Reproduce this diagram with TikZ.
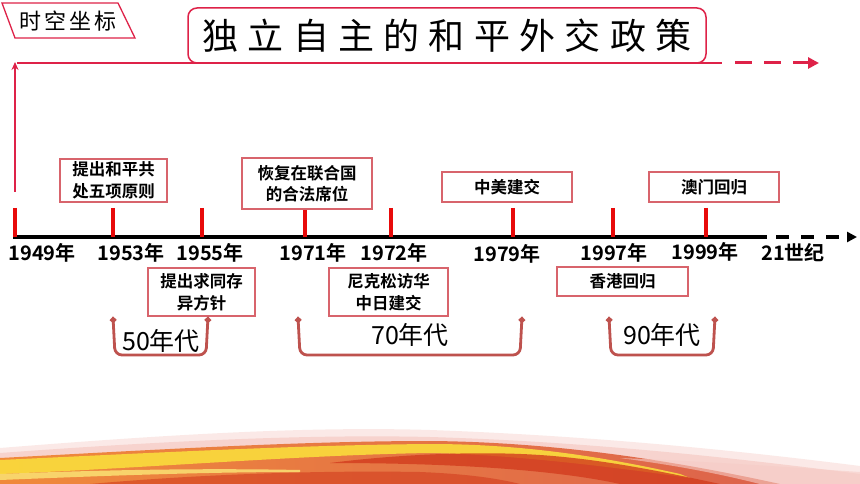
\documentclass[tikz,border=0pt]{standalone}
\usepackage{fontspec}
\setmainfont{Noto Sans CJK SC}[BoldFont={Noto Sans CJK SC Bold}]
\usetikzlibrary{arrows.meta,shapes.geometric}
\definecolor{crim}{RGB}{222,34,72}
\definecolor{tickred}{RGB}{232,10,10}
\definecolor{boxred}{RGB}{216,100,108}
\definecolor{brk}{RGB}{190,82,78}
\definecolor{florange}{RGB}{240,130,40}
\definecolor{flyellow}{RGB}{250,220,60}
\definecolor{flred}{RGB}{210,60,30}
\definecolor{flpink}{RGB}{240,170,160}
\begin{document}
\begin{tikzpicture}[x=1pt,y=-1pt,
 evbox/.style={draw=boxred, line width=1.3pt, fill=white, font=\bfseries\fontsize{16.5}{21.5}\selectfont, align=center, inner sep=0pt},
 yearlab/.style={font=\bfseries\fontsize{20}{21}\selectfont, inner sep=0pt},
 decade/.style={font=\fontsize{25}{26}\selectfont, inner sep=0pt},
 tickln/.style={draw=tickred, line width=3.5pt},
 bracestyle/.style={draw=brk, line width=2.8pt, rounded corners=7pt, {Circle[length=6pt,width=6pt]}-{Circle[length=6pt,width=6pt]}}
]
\useasboundingbox (0,0) rectangle (860,484);
\fill[white] (0,0) rectangle (860,484);

% bottom flame decoration
\fill[flpink, opacity=0.25] (0,448) .. controls (150,436) and (300,426) .. (430,430) .. controls (600,436) and (750,452) .. (860,466) -- (860,484) -- (0,484) -- cycle;
\fill[flpink, opacity=0.35] (0,453) .. controls (150,442) and (300,434) .. (430,437) .. controls (600,442) and (750,460) .. (860,474) -- (860,484) -- (0,484) -- cycle;
\shade[left color=florange!90!flpink, middle color=florange, right color=flred!70!flpink, opacity=0.95]
  (0,458) .. controls (150,450) and (300,441) .. (430,441) .. controls (560,442) and (680,462) .. (780,484) -- (0,484) -- cycle;
\fill[flyellow, opacity=0.9]
  (0,460) .. controls (150,453) and (300,445) .. (430,444) .. controls (520,444) and (600,456) .. (680,474)
  -- (690,478) .. controls (600,465) and (500,454) .. (430,453) .. controls (300,455) and (150,468) .. (0,474) -- cycle;
\fill[flred, opacity=0.8]
  (330,463) .. controls (400,454) and (480,451) .. (540,455) .. controls (600,459) and (660,471) .. (720,484)
  -- (620,484) .. controls (570,473) and (480,463) .. (330,463) -- cycle;
\fill[flred, opacity=0.6]
  (90,484) .. controls (180,476) and (300,470) .. (420,472) .. controls (470,474) and (500,479) .. (520,484) -- cycle;
\fill[flyellow!70!white, opacity=0.8]
  (0,474) .. controls (100,470) and (200,468) .. (300,470) -- (300,472) .. controls (200,472) and (100,476) .. (0,480) -- cycle;
\fill[flpink!60!white, opacity=0.6]
  (620,458) .. controls (720,462) and (800,468) .. (860,472) -- (860,484) -- (760,484) .. controls (720,474) and (680,466) .. (620,458) -- cycle;

% tag parallelogram
\draw[crim, line width=1.3pt] (2,3) -- (118,3) -- (135,38) -- (15,38) -- cycle;
\node[font=\fontsize{22}{22}\selectfont, inner sep=0pt] (tag) at (68,21) {时\hspace{3pt}空\hspace{3pt}坐\hspace{3pt}标};

% title
\node[draw=crim, line width=1.5pt, rounded corners=9pt, minimum width=518pt, minimum height=55pt, inner sep=0pt,
  font=\fontsize{36}{36}\selectfont] (title) at (447,35.5)
  {独\hspace{9.3pt}立\hspace{9.3pt}自\hspace{9.3pt}主\hspace{9.3pt}的\hspace{9.3pt}和\hspace{9.3pt}平\hspace{9.3pt}外\hspace{9.3pt}交\hspace{9.3pt}政\hspace{9.3pt}策};

% red top line and vertical arrow
\coordinate (hl) at (17,63);
\coordinate (hr) at (722,63);
\coordinate (hd) at (735,63);
\coordinate (htip) at (819,63);
\draw[crim, line width=1.5pt] (hl) -- (hr);
\draw[crim, line width=3pt, dash pattern=on 17pt off 12pt, -{Triangle[length=11pt,width=11pt]}] (hd) -- (htip);
\coordinate (vb) at (15,192);
\coordinate (vt) at (15,62);
\draw[crim, line width=1.5pt, -{Stealth[length=8pt,width=7pt]}] (vb) -- (vt);

% axis
\coordinate (a0) at (13,237);
\coordinate (a1) at (767,237);
\coordinate (a2) at (776,237);
\coordinate (a3) at (857,237);
\draw[black, line width=3.5pt] (a0) -- (a1);
\draw[black, line width=3.5pt, dash pattern=on 13pt off 12pt, -{Triangle[length=10pt,width=10pt]}] (a2) -- (a3);

% ticks
\foreach \n/\x in {a/15,b/113,c/202,d/305,e/391,f/513,g/613,h/706}{
  \coordinate (t\n) at (\x,237);
  \coordinate (u\n) at (\x,208);
  \draw[tickln] (u\n) -- (t\n);
}

% year labels
\node[yearlab] (y1949) at (42,253) {1949年};
\node[yearlab] (y1953) at (131,253) {1953年};
\node[yearlab] (y1955) at (210,253) {1955年};
\node[yearlab] (y1971) at (313,253) {1971年};
\node[yearlab] (y1972) at (394,253) {1972年};
\node[yearlab] (y1979) at (507,254) {1979年};
\node[yearlab] (y1997) at (614,253) {1997年};
\node[yearlab] (y1999) at (705,252) {1999年};
\node[yearlab] (y21) at (793,253) {21世纪};

% event boxes
\node[evbox, minimum width=107pt, minimum height=43pt] (b1953) at (113.5,180.5) {提出和平共\\处五项原则};
\node[evbox, minimum width=130pt, minimum height=51pt] (b1971) at (307,183.5) {恢复在联合国\\的合法席位};
\node[evbox, minimum width=130pt, minimum height=30pt] (b1979) at (507,187) {中美建交};
\node[evbox, minimum width=130pt, minimum height=30pt] (b1999) at (714,187) {澳门回归};
\node[evbox, minimum width=107pt, minimum height=48pt] (b1955) at (201.5,292) {提出求同存\\异方针};
\node[evbox, minimum width=119pt, minimum height=48pt] (b1972) at (388.5,292) {尼克松访华\\中日建交};
\node[evbox, minimum width=131pt, minimum height=29pt] (b1997) at (622.5,281.5) {香港回归};

% decade brackets
\coordinate (p1) at (113,317); \coordinate (p2) at (208,317);
\coordinate (q1) at (298,317); \coordinate (q2) at (522,317);
\coordinate (r1) at (609,317); \coordinate (r2) at (715,317);
\draw[bracestyle] (p1) -- (115,355) -- (206,355) -- (p2);
\draw[bracestyle] (q1) -- (300,355) -- (520,355) -- (q2);
\draw[bracestyle] (r1) -- (611,355) -- (713,355) -- (r2);
\node[decade] (d50) at (161,341) {50年代};
\node[decade] (d70) at (410,335) {70年代};
\node[decade] (d90) at (662,335) {90年代};
\end{tikzpicture}
\end{document}
